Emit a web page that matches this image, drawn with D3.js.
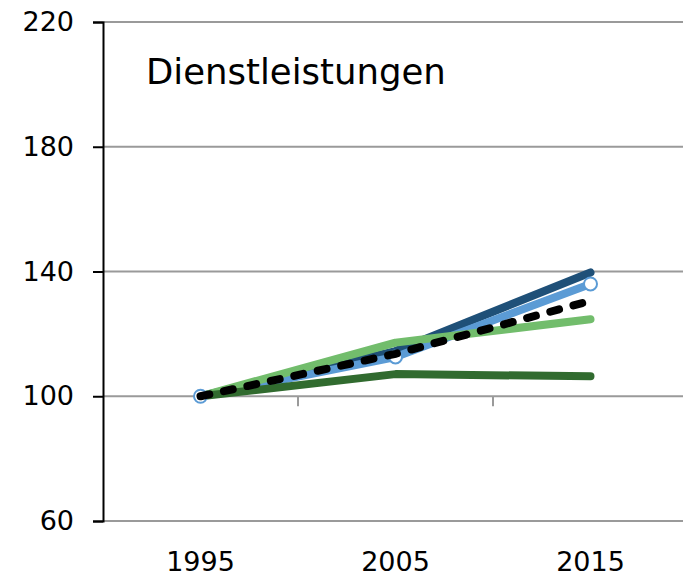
<!DOCTYPE html>
<html>
<head>
<meta charset="utf-8">
<script src="https://cdn.jsdelivr.net/npm/d3@7"></script>
<style>
  body { margin: 0; background: #fff; }
  svg { display: block; font-family: "DejaVu Sans", sans-serif; }
</style>
</head>
<body>
<svg width="683" height="578"></svg>
<script>
// Years and index values (1995 = 100)
const years = ["1995", "2005", "2015"];
const darkBlue = [100, 114.5, 139.7];
const lightBlue = [100, 112.6, 136];
const lightGreen = [100, 117.2, 124.7];
const darkGreen = [100, 107.1, 106.4];
const average = [100, 113.6, 130.6];
const yTicks = [60, 100, 140, 180, 220];
const title = "Dienstleistungen";

const svg = d3.select("svg");

const x = d3.scaleBand().domain(years).range([103, 688]);
const y = d3.scaleLinear().domain([60, 220]).range([521, 22]);
const cx = (i) => x(years[i]) + x.bandwidth() / 2;

// Gridlines
svg.append("g")
  .selectAll("line")
  .data(yTicks)
  .enter()
  .append("line")
  .attr("x1", 103)
  .attr("x2", 683)
  .attr("y1", (d) => y(d))
  .attr("y2", (d) => y(d))
  .attr("stroke", "#9a9a9a")
  .attr("stroke-width", 2);

// Category tick marks hanging from the 100 line
svg.append("g")
  .selectAll("line")
  .data(years.slice(1))
  .enter()
  .append("line")
  .attr("x1", (d) => x(d))
  .attr("x2", (d) => x(d))
  .attr("y1", y(100))
  .attr("y2", y(100) + 10)
  .attr("stroke", "#9a9a9a")
  .attr("stroke-width", 2);

// Y axis
const yAxis = svg.append("g")
  .attr("transform", "translate(103,0)")
  .call(d3.axisLeft(y).tickValues(yTicks).tickSize(10).tickPadding(19));
yAxis.attr("font-size", null).attr("font-family", null);
yAxis.select(".domain").attr("stroke", "#000").attr("stroke-width", 2);
yAxis.selectAll(".tick line").attr("stroke", "#000").attr("stroke-width", 2);
yAxis.selectAll(".tick text")
  .attr("fill", "#000")
  .style("font-size", "27px");

// X labels
svg.append("g")
  .selectAll("text")
  .data(years)
  .enter()
  .append("text")
  .attr("x", (d, i) => cx(i))
  .attr("y", 571)
  .attr("text-anchor", "middle")
  .style("font-size", "27px")
  .text((d) => d);

// Title
svg.append("text")
  .attr("x", 146)
  .attr("y", 84)
  .style("font-size", "35.5px")
  .text(title);

// Lines
const line = d3.line().x((d, i) => cx(i)).y((d) => y(d));
const series = [
  { values: darkBlue, color: "#1f5078" },
  { values: lightBlue, color: "#5b9bd5" },
  { values: lightGreen, color: "#72bd6c" },
  { values: darkGreen, color: "#316b2f" },
];

series.forEach((s) => {
  svg.append("path")
    .datum(s.values)
    .attr("d", line)
    .attr("fill", "none")
    .attr("stroke", s.color)
    .attr("stroke-width", 8)
    .attr("stroke-linecap", "round")
    .attr("stroke-linejoin", "round");
});

// Markers for the light blue series
svg.append("g")
  .selectAll("circle")
  .data(lightBlue)
  .enter()
  .append("circle")
  .attr("cx", (d, i) => cx(i))
  .attr("cy", (d) => y(d))
  .attr("r", 6.5)
  .attr("fill", "#fff")
  .attr("stroke", "#5b9bd5")
  .attr("stroke-width", 2);

// Average dashed line
svg.append("path")
  .datum(average)
  .attr("d", line)
  .attr("fill", "none")
  .attr("stroke", "#000")
  .attr("stroke-width", 8)
  .attr("stroke-linecap", "round")
  .attr("stroke-dasharray", "9,15");
</script>
</body>
</html>
